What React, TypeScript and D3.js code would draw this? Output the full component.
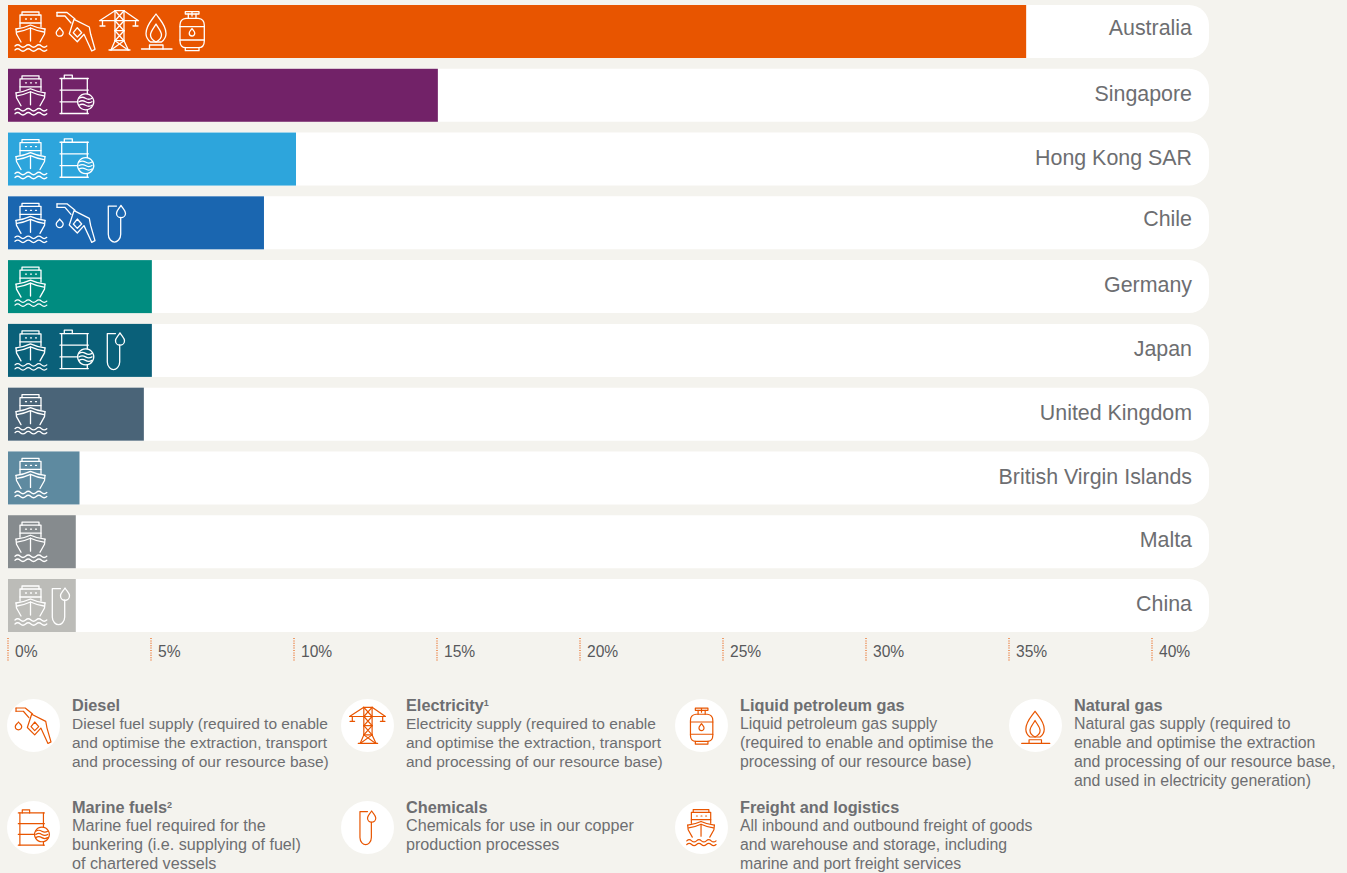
import React from "react";
import * as d3 from "d3";

const countries = ["Australia","Singapore","Hong Kong SAR","Chile","Germany","Japan","United Kingdom","British Virgin Islands","Malta","China"];
const shares = [35.6,15.03,10.07,8.95,5.03,5.03,4.75,2.5,2.37,2.37];
const barColours = ["#e85500","#722268","#2da5dc","#1a66b0","#008c80","#0a6079","#4a6478","#5e8aa0","#868b8e","#bcbcb8"];
const countryIcons = [
  ["freight","diesel","electricity","gas","lpg"],
  ["freight","marine"],
  ["freight","marine"],
  ["freight","diesel","chemicals"],
  ["freight"],
  ["freight","marine","chemicals"],
  ["freight"],
  ["freight"],
  ["freight"],
  ["freight","chemicals"],
];
const tickValues = [0,5,10,15,20,25,30,35,40];
const legendKeys = ["diesel","electricity","lpg","gas","marine","chemicals","freight"];
const legendTitles = ["Diesel","Electricity","Liquid petroleum gas","Natural gas","Marine fuels","Chemicals","Freight and logistics"];
const legendSup = ["","1","","","2","",""];
const legendBodies = [
  ["Diesel fuel supply (required to enable","and optimise the extraction, transport","and processing of our resource base)"],
  ["Electricity supply (required to enable","and optimise the extraction, transport","and processing of our resource base)"],
  ["Liquid petroleum gas supply","(required to enable and optimise the","processing of our resource base)"],
  ["Natural gas supply (required to","enable and optimise the extraction","and processing of our resource base,","and used in electricity generation)"],
  ["Marine fuel required for the","bunkering (i.e. supplying of fuel)","of chartered vessels"],
  ["Chemicals for use in our copper","production processes"],
  ["All inbound and outbound freight of goods","and warehouse and storage, including","marine and port freight services"],
];

const iconOffsets: Record<string, number[]> = {
  "Australia":[6,48,91,133,171],
  "Singapore":[6,51],
  "Hong Kong SAR":[6,51],
  "Chile":[6,48,99],
  "Germany":[6],
  "Japan":[6,51,98],
  "United Kingdom":[6],
  "British Virgin Islands":[6],
  "Malta":[6],
  "China":[6,43],
};
const FONT = "'Liberation Sans', Arial, sans-serif";
const BG = "#f4f3ee";
const GREY = "#6d6e71";
const ORANGE = "#e85500";
const bodySizes = [15.5,15.5,15.85,15.85,16.15,16.15,15.8];

const dropPath = (cx: number, top: number, h: number, w: number) => {
  const r = w / 2;
  const cy = top + h - r;
  return `M${cx} ${top}C${cx - r * 0.5} ${top + h * 0.3} ${cx - r} ${cy - r * 0.6} ${cx - r} ${cy}A${r} ${r} 0 0 0 ${cx + r} ${cy}C${cx + r} ${cy - r * 0.6} ${cx + r * 0.5} ${top + h * 0.3} ${cx} ${top}Z`;
};
const wave = (x: number, y: number, n: number, s: number, a: number) =>
  `M${x} ${y}q${s / 2} ${-a} ${s} 0` + "t" + Array(n - 1).fill(`${s} 0`).join("t");

const iconShapes: Record<string, { w: number; h: number; paths: string[] }> = {
  freight: { w: 34, h: 39, paths: [
    "M8 3V0H25V3","M6 15V3H27V15","M6 11H27",
    "M2 17Q10 16 16.5 13Q23 16 31 17","M3 20Q10 19 16.5 16Q23 19 30 20",
    "M2 17L2.5 22L7 30","M31 17L30.5 22L26 30","M16.5 16V29",
    "M11.5 7h1M16.5 7h1M21.5 7h1",
    wave(1,34,6,5.3,2.5), wave(1,38,6,5.3,2.5),
  ]},
  diesel: { w: 40, h: 41, paths: [
    "M1 1.5H11L19 8","M1 5H9L15 12","M1 1.5V5",
    "M18 8.3L33.3 16L34.7 23.3L39 38.3L35.7 40L28 23.3L21.3 30.7L13.3 22.7Z",
    "M21.3 16.7L25.7 21.7L21.3 26L17.3 21.7Z",
    dropPath(3.7,16.7,8.5,7),
  ]},
  electricity: { w: 40, h: 41, paths: [
    "M16 .7H25","M16 .7L.5 10.7H39.5L25 .7","M16 .7V30.7L12 40","M25 .7V30.7L29.3 40","M10 40H31",
    "M16 .7L25 10.7M25 .7L16 10.7","M16 10.7L25 20.7M25 10.7L16 20.7","M16 20.7L25 30.7M25 20.7L16 30.7","M16 30.7L29 40M25 30.7L12 40","M16 20.7H25M16 30.7H25",
    "M3.5 10.7V16M1 16H6","M36.5 10.7V16M34 16H39",
  ]},
  gas: { w: 31, h: 39, paths: [
    "M15 4C11 10 5 15 5 23.5C5 27 7 30 9.5 32H20.5C23 30 25 27 25 23.5C25 15 19 10 15 4Z",
    "M15 14C13 18 9.5 21 9.5 25C9.5 28 12 30.5 15 32C18 30.5 20.5 28 20.5 25C20.5 21 17 18 15 14Z",
    "M8.5 39V35H22V39","M.5 39H31",
  ]},
  lpg: { w: 26, h: 41, paths: [
    "M6.3 1.7H20V4H6.3Z","M9.3 4V8.3M17 4V8.3","M13 2V6",
    "M7 8.3H19.3Q25.3 9 25.3 15V31Q25.3 37.7 19.3 37.7H7Q1 37.7 1 31V15Q1 9 7 8.3Z",
    "M1 16.7H25.3","M1 30H25.3","M6.3 37.7V40.7H20V37.7",
    dropPath(13,18.5,7.5,5.5),
  ]},
  marine: { w: 35, h: 41, paths: [
    "M5.3 4.7V1.3H13.3V4.7","M1 4.7H29.3","M1 39.7H29.3","M1 16.3H29.3","M1 28H18.7",
    "M2.7 4.7V39.7","M28.3 4.7V20","M28.3 36V39.7",
    "M26.7 20A8 8 0 1 1 26.69 20Z",
    wave(20,24.5,2,6.5,2), wave(20,28,2,6.5,2), wave(20,31.5,2,6.5,2),
  ]},
  chemicals: { w: 19, h: 38, paths: [
    "M9.5 1.7H1.3V30C1.3 35 5 37.7 7.5 37.7C10 37.7 13.7 35 13.7 30V13",
    dropPath(14,1,12.3,9),
  ]},
};

const Icon = ({ name, x, y, colour, scale = 1 }: { name: string; x: number; y: number; colour: string; scale?: number }) => (
  <g transform={`translate(${x},${y}) scale(${scale})`} fill="none" stroke={colour} strokeWidth={1.3} strokeLinejoin="round" strokeLinecap="round">
    {iconShapes[name].paths.map((d, i) => <path key={i} d={d} />)}
  </g>
);

const iconTop: Record<string, number> = { freight: 7, diesel: 6, electricity: 5, gas: 5, lpg: 5, marine: 5, chemicals: 8 };
const labelShift = [-4, -1.5, -2, -4.5, -2, -2, -2, -1.5, -2.5, -2.5];

export default function App() {
  const x = d3.scaleLinear().domain([0, 40]).range([8, 1152]);
  const y = d3.scaleBand<string>().domain(countries).range([5, 632]).paddingInner(0.169);
  const bw = y.bandwidth();
  const rowEnd = 1209;
  return (
    <svg width={1347} height={873} style={{ position: "fixed", left: 0, top: 0, display: "block", fontFamily: FONT }}>
      <rect width={1347} height={873} fill={BG} />
      {countries.map((c, i) => {
        const top = y(c)!;
        return (
          <g key={c}>
            <path d={`M${x(0)} ${top}H${rowEnd - 20}A20 20 0 0 1 ${rowEnd} ${top + 20}V${top + bw - 20}A20 20 0 0 1 ${rowEnd - 20} ${top + bw}H${x(0)}Z`} fill="#fff" />
            <rect x={x(0)} y={top} width={x(shares[i]) - x(0)} height={bw} fill={barColours[i]} />
            {countryIcons[i].map((ic, j) => (
              <Icon key={j} name={ic} x={x(0) + iconOffsets[c][j]} y={top + iconTop[ic]} colour="#fff" />
            ))}
            <text x={1192} y={top + bw / 2 + 7.5 + labelShift[i]} textAnchor="end" fontSize={21.4} fill={GREY}>{c}</text>
          </g>
        );
      })}
      {tickValues.map(t => (
        <g key={t}>
          <line x1={x(t)} x2={x(t)} y1={638} y2={661} stroke={ORANGE} strokeWidth={1.1} strokeDasharray="1 1.4" />
          <text x={x(t) + 7} y={656.5} fontSize={15.6} fill="#58595b">{t}%</text>
        </g>
      ))}
      {legendKeys.map((k, i) => {
        const col = i % 4, row = i < 4 ? 0 : 1;
        const cx = 33.5 + col * 334;
        const cy = row === 0 ? 725.5 : 827.5;
        const tx = 72 + col * 334;
        const s = iconShapes[k];
        const sc = 0.92;
        return (
          <g key={k}>
            <circle cx={cx} cy={cy} r={26.5} fill="#fff" />
            <Icon name={k} x={cx - (s.w * sc) / 2} y={cy - (s.h * sc) / 2} colour={ORANGE} scale={sc} />
            <text x={tx} y={row === 0 ? 711 : 813} fontSize={16.3} fontWeight="bold" fill={GREY}>
              {legendTitles[i]}
              {legendSup[i] && <tspan dy={-5} fontSize={9}>{legendSup[i]}</tspan>}
            </text>
            {legendBodies[i].map((ln, j) => (
              <text key={j} x={tx} y={(row === 0 ? 729 : 831) + j * 19} fontSize={bodySizes[i]} fill={GREY}>{ln}</text>
            ))}
          </g>
        );
      })}
    </svg>
  );
}
